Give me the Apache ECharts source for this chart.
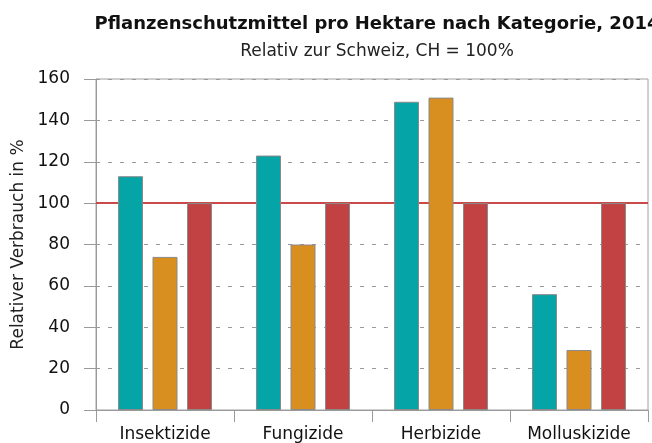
<!DOCTYPE html>
<html>
<head>
<meta charset="utf-8">
<script src="https://cdn.jsdelivr.net/npm/echarts@6/dist/echarts.min.js"></script>
<style>
  html, body { margin: 0; padding: 0; background: #fff; }
  #chart { width: 652px; height: 443px; }
</style>
</head>
<body>
<div id="chart"></div>
<script>
// Kategorien und Werte (CH = 100%)
const categories = ['Insektizide', 'Fungizide', 'Herbizide', 'Molluskizide']
const seriesA = [113, 123, 149, 56]
const seriesB = [74, 80, 151, 29]
const seriesCH = [100, 100, 100, 100]
const referenceValue = 100

const FONT = 'DejaVu Sans'
const barBorder = { borderColor: '#8a8a8a', borderWidth: 1 }

const chart = echarts.init(document.getElementById('chart'))

const option = {
  animation: false,
  textStyle: { fontFamily: FONT },
  title: [
    {
      text: 'Pflanzenschutzmittel pro Hektare nach Kategorie, 2014',
      left: 372, top: 10, textAlign: 'center',
      textStyle: { fontFamily: FONT, fontSize: 18, fontWeight: 'bold', color: '#111' }
    },
    {
      text: 'Relativ zur Schweiz, CH = 100%',
      left: 372, top: 38, textAlign: 'center',
      textStyle: { fontFamily: FONT, fontSize: 17, fontWeight: 'normal', color: '#222' }
    }
  ],
  grid: {
    left: 96, right: 4, top: 79, bottom: 33,
    show: true, borderColor: '#a0a0a0', borderWidth: 1
  },
  xAxis: {
    type: 'category',
    data: categories,
    axisLine: { lineStyle: { color: '#9a9a9a' } },
    axisTick: { show: true, length: 12, lineStyle: { color: '#9a9a9a' } },
    axisLabel: { color: '#111', fontSize: 17, margin: 16, fontFamily: FONT }
  },
  yAxis: {
    type: 'value',
    min: 0, max: 160, interval: 20,
    name: 'Relativer Verbrauch in %',
    nameLocation: 'middle',
    nameGap: 67,
    nameTextStyle: { fontSize: 17, color: '#222', fontFamily: FONT },
    axisLine: { show: true, lineStyle: { color: '#9a9a9a' } },
    axisTick: { show: true, length: 12, lineStyle: { color: '#9a9a9a' } },
    axisLabel: { color: '#111', fontSize: 17, margin: 26, fontFamily: FONT },
    splitLine: { lineStyle: { color: '#9a9a9a', type: [4, 8] } }
  },
  series: [
    {
      type: 'bar', data: seriesA, barWidth: 25, barGap: '38%', barCategoryGap: '32%',
      itemStyle: { color: '#05a4a6', ...barBorder }
    },
    {
      type: 'bar', data: seriesB, barWidth: 25,
      itemStyle: { color: '#d98e20', ...barBorder }
    },
    {
      type: 'bar', data: seriesCH, barWidth: 25,
      itemStyle: { color: '#c24244', ...barBorder },
      markLine: {
        z: 1,
        silent: true,
        symbol: 'none',
        label: { show: false },
        lineStyle: { color: '#c84a4a', width: 2, type: 'solid' },
        data: [{ yAxis: referenceValue }]
      }
    }
  ]
}

chart.setOption(option)
</script>
</body>
</html>
